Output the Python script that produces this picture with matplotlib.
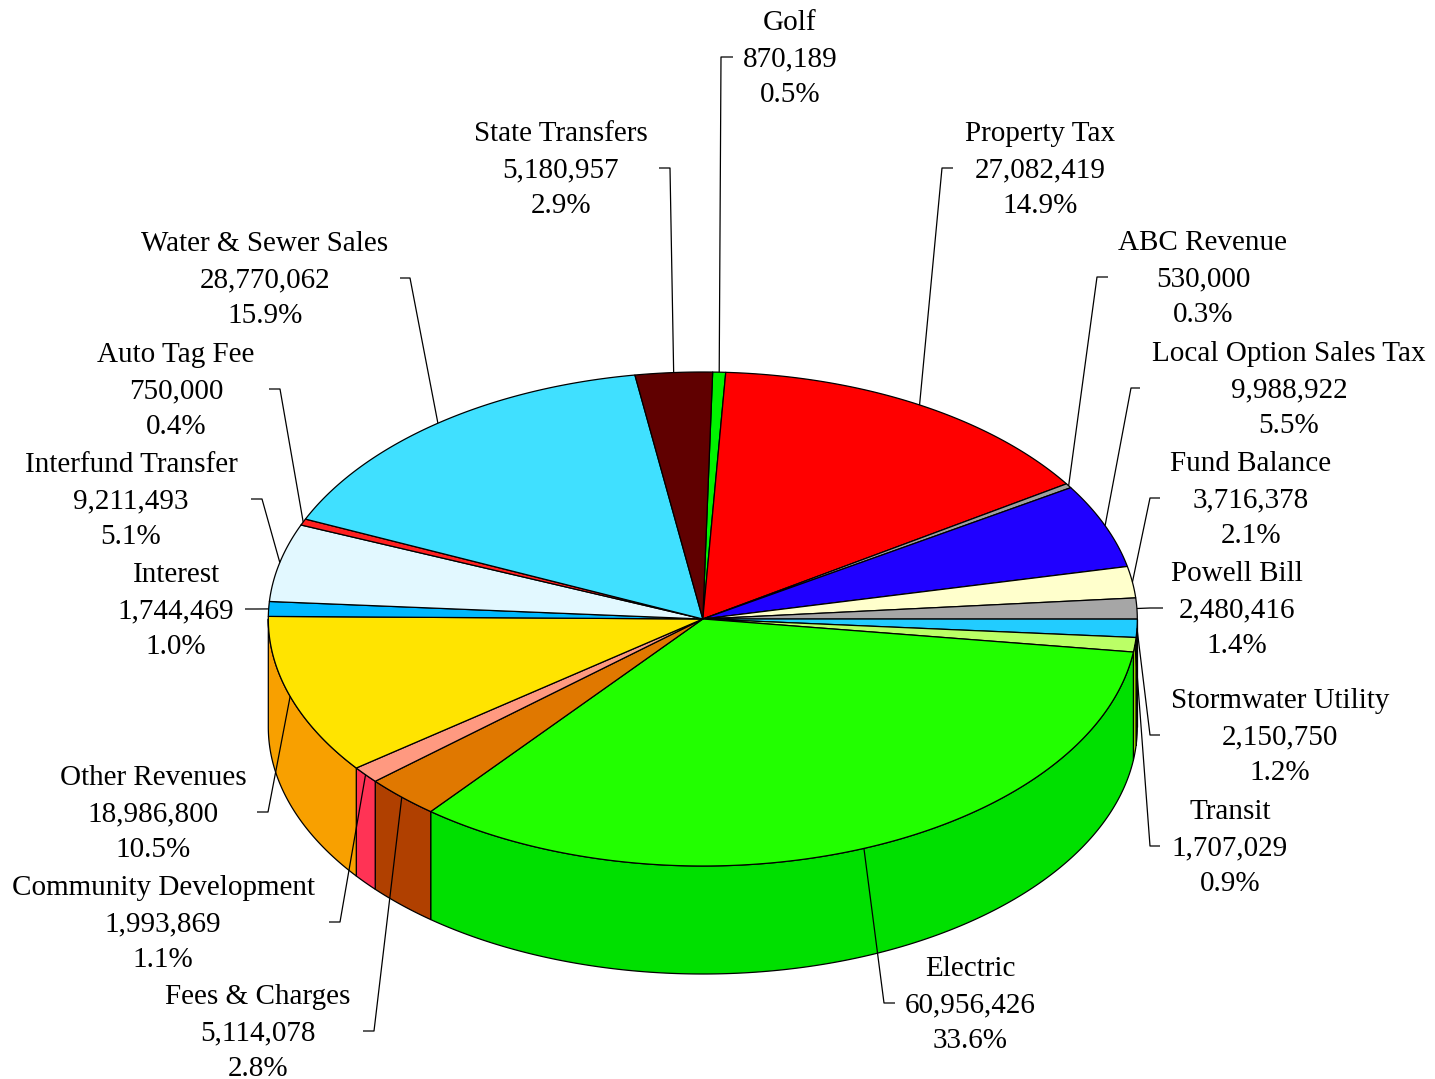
import numpy as np
import matplotlib
matplotlib.use("Agg")
import matplotlib.pyplot as plt
from matplotlib.patches import Polygon

# ---------------- data ----------------
categories = ["Golf", "Property Tax", "ABC Revenue", "Local Option Sales Tax",
              "Fund Balance", "Powell Bill", "Stormwater Utility", "Transit",
              "Electric", "Fees & Charges", "Community Development",
              "Other Revenues", "Interest", "Interfund Transfer",
              "Auto Tag Fee", "Water & Sewer Sales", "State Transfers"]
values = [870189, 27082419, 530000, 9988922, 3716378, 2480416, 2150750,
          1707029, 60956426, 5114078, 1993869, 18986800, 1744469, 9211493,
          750000, 28770062, 5180957]
top_colors = ["#00F400", "#FF0000", "#A0A0A0", "#2000FF", "#FFFFCC", "#A6A6A6",
              "#22CCFF", "#BBFF66", "#22FF00", "#E07800", "#FF9980", "#FFE400",
              "#00B8FF", "#E2F8FF", "#FF2020", "#40E0FF", "#600000"]
side_colors = ["#00C000", "#C00000", "#808080", "#1800C0", "#D8D8A0", "#808080",
               "#10A8D8", "#99DD00", "#00E000", "#B04000", "#FF3355", "#F8A000",
               "#0090D0", "#B8D8E0", "#C01010", "#20B0D0", "#400000"]

# ---------------- layout ----------------
label_x = [790, 1040, 1203, 1289, 1251, 1237, 1280, 1230, 970, 258, 163, 153,
           176, 131, 176, 265, 561]
label_y = [57, 168, 277, 388, 498, 608, 735, 846, 1003, 1031, 922, 812,
           609, 499, 389, 278, 168]
elbow_x = [721, 942, 1097, 1131, 1150, 1150, 1150, 1150, 884, 374, 340, 268,
           257, 262, 280, 410, 670]
tick_x = [733, 953, 1108, 1140, 1160, 1163, 1160, 1160, 895, 363, 329, 257,
          245, 251, 269, 400, 659]

W, H = 1435, 1079
cx, cy, a, b, depth = 702.8, 619.0, 434.5, 247.0, 108.0
start = 88.7

fig = plt.figure(figsize=(W / 100, H / 100), dpi=100)
ax = fig.add_axes([0, 0, 1, 1])
ax.set_xlim(0, W)
ax.set_ylim(H, 0)
ax.axis("off")

vals = np.array(values, dtype=float)
total = vals.sum()
frac = vals / total
cum = np.concatenate([[0], np.cumsum(frac)])
th_s = start - 360 * cum[:-1]
th_e = start - 360 * cum[1:]


def pts(t0, t1, dz=0.0, n=None):
    if n is None:
        n = max(3, int(abs(t1 - t0) * 2) + 2)
    t = np.radians(np.linspace(t0, t1, n))
    return np.column_stack([cx + a * np.cos(t), cy - b * np.sin(t) + dz])


lw = 0.9
# side walls (front half: theta in [-180, 0])
for i in range(len(values)):
    lo = max(th_e[i], -180.0)
    hi = min(th_s[i], 0.0)
    if hi > lo:
        top = pts(hi, lo)
        bot = pts(lo, hi, dz=depth)
        poly = Polygon(np.vstack([top, bot]), closed=True, facecolor=side_colors[i],
                       edgecolor="black", linewidth=lw, zorder=1, joinstyle="round")
        ax.add_patch(poly)

# top faces
for i in range(len(values)):
    arc = pts(th_s[i], th_e[i])
    poly = Polygon(np.vstack([[cx, cy], arc]), closed=True, facecolor=top_colors[i],
                   edgecolor="black", linewidth=lw, zorder=2, joinstyle="round")
    ax.add_patch(poly)

# labels + leader lines
fs = 21
for i, name in enumerate(categories):
    mid = np.radians((th_s[i] + th_e[i]) / 2)
    axp = cx + a * np.cos(mid)
    ayp = cy - b * np.sin(mid)
    ax.plot([axp, elbow_x[i], tick_x[i]], [ayp, label_y[i], label_y[i]],
            color="black", linewidth=lw, zorder=3, solid_capstyle="butt")
    lines = [name, f"{values[i]:,}", f"{frac[i] * 100:.1f}%"]
    base = label_y[i] + 9
    for k, s in enumerate(lines):
        ax.text(label_x[i], base + (k - 1) * 35.7, s, ha="center", va="baseline",
                fontsize=fs, family="Liberation Serif", color="black", zorder=4)

fig.savefig("out.png", dpi=100, facecolor="white")
